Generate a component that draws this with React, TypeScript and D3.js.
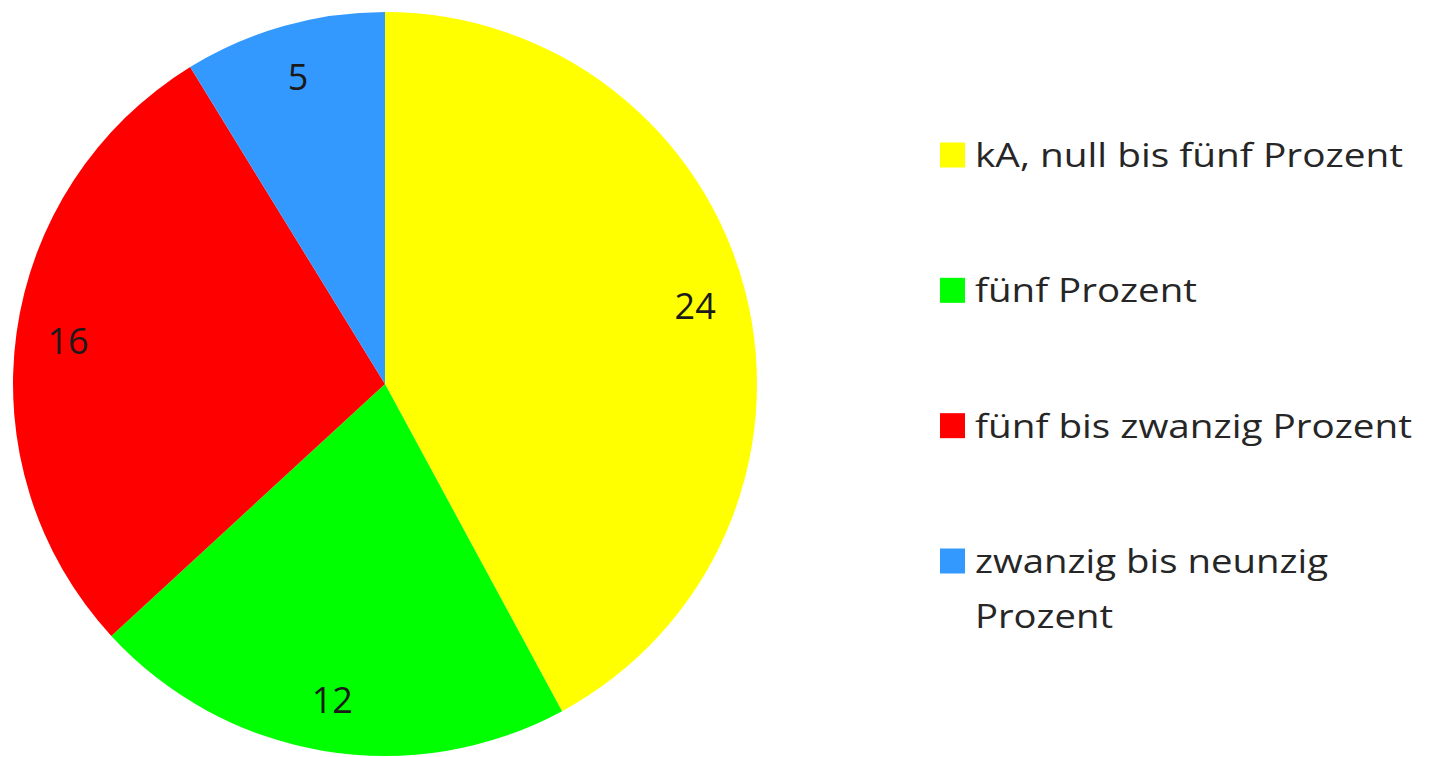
import React from "react";
import * as d3 from "d3";

const categories = [
  "kA, null bis fünf Prozent",
  "fünf Prozent",
  "fünf bis zwanzig Prozent",
  "zwanzig bis neunzig Prozent",
];
const values = [24, 12, 16, 5];
const colors = ["#FFFF00", "#00FF00", "#FF0000", "#3399FF"];
const legendLines = [
  ["kA, null bis fünf Prozent"],
  ["fünf Prozent"],
  ["fünf bis zwanzig Prozent"],
  ["zwanzig bis neunzig", "Prozent"],
];
const legendWidths = [[428], [222], [437], [353, 138]];

const W = 1430;
const H = 757;
const cx = 385;
const cy = 384;
const R = 372;
const labelR = 320;
const font = "'Open Sans', Calibri, 'Noto Sans', sans-serif";

export default function App() {
  const data = categories.map((c, i) => ({ c, v: values[i], color: colors[i] }));
  const pie = d3.pie<any>().value((d) => d.v).sort(null).startAngle(0).endAngle(2 * Math.PI);
  const arcs = pie(data);
  const arc = d3.arc<any>().innerRadius(0).outerRadius(R);
  const labelArc = d3.arc<any>().innerRadius(labelR).outerRadius(labelR);

  const legendY = d3.scalePoint<number>().domain(d3.range(categories.length)).range([155, 561]);

  return (
    <svg
      width={W}
      height={H}
      style={{ position: "absolute", left: 0, top: 0, background: "#fff" }}
    >
      <g transform={`translate(${cx},${cy})`}>
        {arcs.map((a, i) => (
          <path key={i} d={arc(a) as string} fill={a.data.color} />
        ))}
        {arcs.map((a, i) => {
          const [x, y] = labelArc.centroid(a);
          return (
            <text
              key={"l" + i}
              x={x}
              y={y}
              textAnchor="middle"
              dominantBaseline="central"
              fontFamily={font}
              fontSize={36}
              fill="#1a1a1a"
            >
              {a.data.v}
            </text>
          );
        })}
      </g>
      {categories.map((c, i) => {
        const yc = legendY(i) as number;
        return (
          <g key={"lg" + i}>
            <rect x={940} y={yc - 12.5} width={25} height={25} fill={colors[i]} />
            {legendLines[i].map((line, j) => (
              <text
                key={j}
                x={975}
                y={yc + 12 + j * 55}
                fontFamily={font}
                fontSize={32}
                fill="#262626"
                textLength={legendWidths[i][j]}
                lengthAdjust="spacingAndGlyphs"
              >
                {line}
              </text>
            ))}
          </g>
        );
      })}
    </svg>
  );
}
